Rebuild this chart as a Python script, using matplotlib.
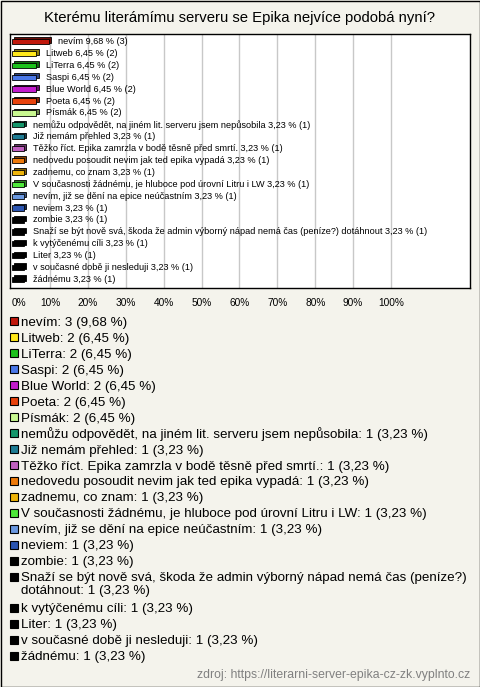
#Poll chart: "Kterému literámímu serveru se Epika nejvíce podobá nyní?"
#horizontal 3D-ish bars with a colour legend listed below

import matplotlib
matplotlib.use('Agg')
import matplotlib.pyplot as plt
from matplotlib.patches import Rectangle
from matplotlib.colors import to_rgb

plt.rcParams['font.family'] = ['Liberation Sans', 'DejaVu Sans']

Title = "Kterému literámímu serveru se Epika nejvíce podobá nyní?"

Answers = ["nevím", "Litweb", "LiTerra", "Saspi", "Blue World", "Poeta", "Písmák",
	"nemůžu odpovědět, na jiném lit. serveru jsem nepůsobila",
	"Již nemám přehled",
	"Těžko říct. Epika zamrzla v bodě těsně před smrtí.",
	"nedovedu posoudit nevim jak ted epika vypadá",
	"zadnemu, co znam",
	"V současnosti žádnému, je hluboce pod úrovní Litru i LW",
	"nevím, již se dění na epice neúčastním",
	"neviem", "zombie",
	"Snaží se být nově svá, škoda že admin výborný nápad nemá čas (peníze?) dotáhnout",
	"k vytýčenému cíli", "Liter", "v současné době ji nesleduji", "žádnému"]

Counts = [3, 2, 2, 2, 2, 2, 2, 1, 1, 1, 1, 1, 1, 1, 1, 1, 1, 1, 1, 1, 1]
Percents = [9.68, 6.45, 6.45, 6.45, 6.45, 6.45, 6.45, 3.23, 3.23, 3.23, 3.23, 3.23,
	3.23, 3.23, 3.23, 3.23, 3.23, 3.23, 3.23, 3.23, 3.23]

Colours = ["#c0180c", "#ffe81a", "#1cc21c", "#4a78e8", "#c21ccc", "#e8420c", "#c8f890",
	"#14966a", "#1e7c94", "#c060c0", "#ee7a0a", "#eeb40a", "#4ee83a", "#6a98e0",
	"#2a54b0", "#000000", "#000000", "#000000", "#000000", "#000000", "#000000"]

# legend text: the long answer wraps onto a second line
LegendNames = list(Answers)
LegendNames[16] = "Snaží se být nově svá, škoda že admin výborný nápad nemá čas (peníze?)\ndotáhnout"

XTicks = [0, 10, 20, 30, 40, 50, 60, 70, 80, 90, 100]

W, H = 480, 687
BG = "#f4f3ec"


def Fmt(v):
	return ("%.2f" % v).replace(".", ",")


def Shade(c, f):
	r, g, b = to_rgb(c)
	return (r*f, g*f, b*f)


fig = plt.figure(figsize=(W/100, H/100), dpi=100)
fig.patch.set_facecolor(BG)

# outer frame
fig.patches.append(Rectangle((0.5/W, 0.5/H), (W-1)/W, (H-1)/H, transform=fig.transFigure,
	fill=False, edgecolor='black', linewidth=1.0))

fig.text(0.5, 1 - 18/H, Title, ha='center', va='center', fontsize=10.7)

# bar area
ax_left, ax_right, ax_top, ax_bot = 10, 470, 34, 288
ax = fig.add_axes([ax_left/W, 1 - ax_bot/H, (ax_right-ax_left)/W, (ax_bot-ax_top)/H])
ax.set_facecolor('white')

px_per_pct = 3.79
ax.set_xlim(-2/px_per_pct, (ax_right-ax_left-2)/px_per_pct)
row_px = 11.9
first_row = 41.5
ax.set_ylim((ax_bot-first_row)/row_px, (ax_top-first_row)/row_px)

for x in XTicks[1:]:
	ax.axvline(x, color='#c8c8c8', linewidth=1.0, zorder=0)

for index in range(len(Answers)):
	val = Percents[index]
	col = Colours[index]
	# back face for the 3D look
	ax.barh(index - 0.12, val, height=0.45, left=0.55, color=Shade(col, 0.55),
		edgecolor='black', linewidth=0.6, zorder=2)
	ax.barh(index, val, height=0.45, color=col, edgecolor='black', linewidth=0.6, zorder=3)
	ax.text(val + 2.4, index, "%s %s %% (%d)" % (Answers[index], Fmt(val), Counts[index]),
		va='center', ha='left', fontsize=6.6, zorder=4)

ax.set_xticks(XTicks)
ax.set_xticklabels(["%d%%" % t for t in XTicks], fontsize=7.3)
ax.get_xticklabels()[0].set_horizontalalignment('left')
ax.tick_params(axis='x', length=0, pad=7)
ax.set_yticks([])
for s in ax.spines.values():
	s.set_linewidth(1.0)
	s.set_color('black')

# legend below
y = 322
for index in range(len(Answers)):
	fig.patches.append(Rectangle((10/W, 1 - (y+3.5)/H), 8/W, 8/H, transform=fig.transFigure,
		facecolor=Colours[index], edgecolor='black', linewidth=0.8))
	lines = ("%s: %d (%s %%)" % (LegendNames[index], Counts[index], Fmt(Percents[index]))).split("\n")
	for k in range(len(lines)):
		fig.text(21/W, 1 - (y + 4 + 13*k)/H, lines[k], ha='left',
			va='baseline', fontsize=9.6)
	y += 15.95
	if len(lines) > 1:
		y += 15

fig.text(470/W, 1 - 675/H, "zdroj: https://literarni-server-epika-cz-zk.vyplnto.cz",
	ha='right', va='center', fontsize=8.8, color='#808080')

fig.savefig("out.png", dpi=100, facecolor=BG)
